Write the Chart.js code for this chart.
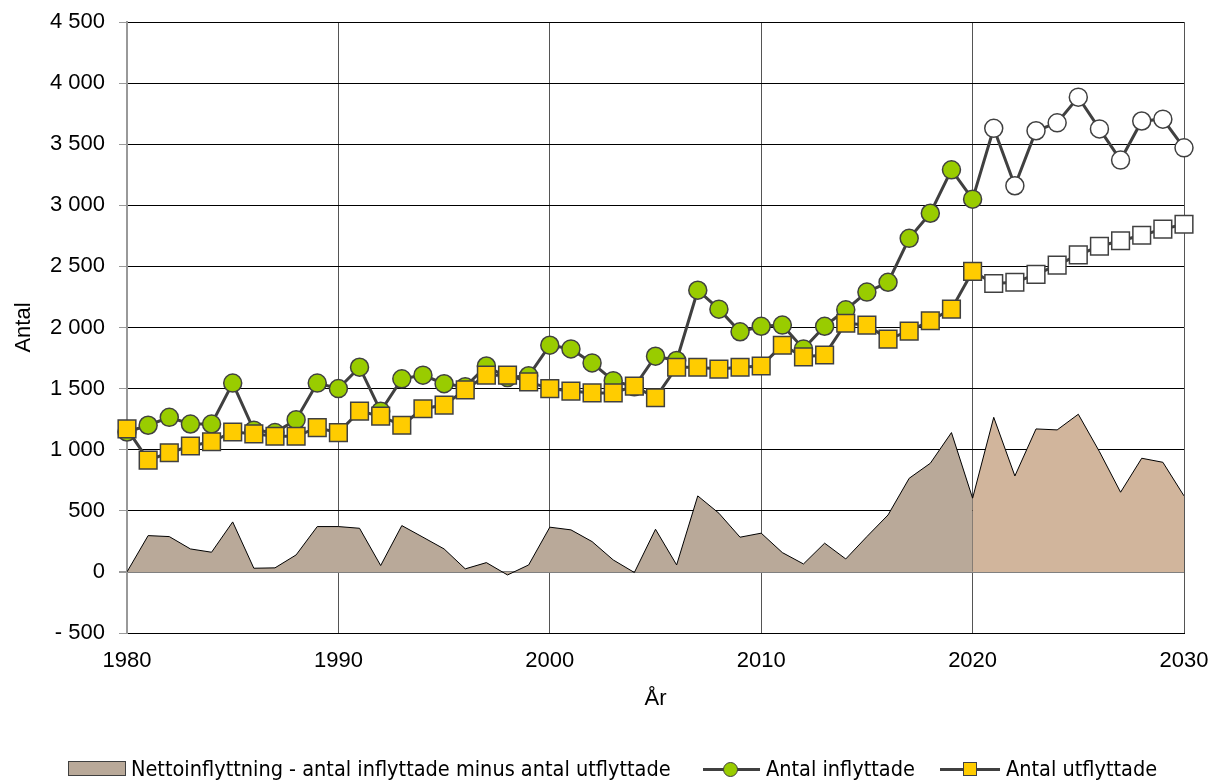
<!DOCTYPE html>
<html lang="sv">
<head>
<meta charset="utf-8">
<script src="https://cdn.jsdelivr.net/npm/chart.js@4/dist/chart.umd.min.js"></script>
<style>
  html, body { margin: 0; padding: 0; background: #fff; }
  #wrap { position: relative; width: 1214px; height: 781px; }
  .lg { position: absolute; font-family: "Liberation Sans Narrow", "DejaVu Sans Condensed", sans-serif; font-size: 21.5px; color: #000; line-height: 26px; top: 756px; white-space: nowrap; }
  .sw { position: absolute; box-sizing: border-box; }
</style>
</head>
<body>
<div id="wrap">
  <canvas id="chart" width="1214" height="781"></canvas>
  <div class="sw" style="left:68px;top:761px;width:58px;height:15px;background:#b9a999;border:1px solid #404040"></div>
  <div class="lg" style="left:131px">Nettoinflyttning - antal inflyttade minus antal utflyttade</div>
  <div class="sw" style="left:703px;top:768px;width:57px;height:3px;background:#404040"></div>
  <div class="sw" style="left:723px;top:762px;width:15px;height:15px;border-radius:50%;background:#99cc00;border:1.5px solid #404040"></div>
  <div class="lg" style="left:766px">Antal inflyttade</div>
  <div class="sw" style="left:940px;top:768px;width:60px;height:3px;background:#404040"></div>
  <div class="sw" style="left:963px;top:762px;width:14px;height:14px;background:#ffcc00;border:1.5px solid #404040"></div>
  <div class="lg" style="left:1006px">Antal utflyttade</div>
</div>
<script>
// data
const histYears = [1980, 1981, 1982, 1983, 1984, 1985, 1986, 1987, 1988, 1989,
                   1990, 1991, 1992, 1993, 1994, 1995, 1996, 1997, 1998, 1999,
                   2000, 2001, 2002, 2003, 2004, 2005, 2006, 2007, 2008, 2009,
                   2010, 2011, 2012, 2013, 2014, 2015, 2016, 2017, 2018, 2019, 2020];
const progYears = [2020, 2021, 2022, 2023, 2024, 2025, 2026, 2027, 2028, 2029, 2030];

const inflyttade = [1145, 1200, 1265, 1210, 1210, 1545, 1160, 1140, 1245, 1545,
                    1500, 1675, 1315, 1580, 1610, 1540, 1515, 1685, 1590, 1605,
                    1855, 1825, 1710, 1565, 1515, 1765, 1730, 2305, 2150, 1965,
                    2010, 2020, 1825, 2010, 2145, 2290, 2370, 2730, 2935, 3290, 3050];
const utflyttade = [1170, 915, 975, 1030, 1065, 1145, 1130, 1110, 1110, 1180,
                    1140, 1315, 1275, 1200, 1335, 1365, 1490, 1610, 1610, 1555,
                    1500, 1480, 1465, 1465, 1520, 1425, 1675, 1675, 1660, 1675,
                    1685, 1855, 1760, 1775, 2035, 2020, 1905, 1970, 2055, 2150, 2460];
const netto = [0, 297, 289, 188, 161, 409, 30, 33, 139, 371,
               371, 357, 52, 379, 284, 188, 25, 76, -25, 57,
               366, 344, 248, 98, -5, 349, 57, 622, 480, 284,
               317, 158, 65, 235, 106, 289, 466, 766, 889, 1140, 603];

// prognos 2020-2030 (first value = last observed year, for the joining segment)
const inflyttadeProg = [3050, 3630, 3160, 3610, 3675, 3885, 3625, 3370, 3690, 3705, 3470];
const utflyttadeProg = [2460, 2360, 2370, 2435, 2510, 2595, 2665, 2710, 2755, 2805, 2845];
const nettoProg = [603, 1265, 785, 1170, 1162, 1290, 984, 652, 930, 897, 622];

const yTicks = [-500, 0, 500, 1000, 1500, 2000, 2500, 3000, 3500, 4000, 4500];
const xTicks = [1980, 1990, 2000, 2010, 2020, 2030];

function pts(xs, ys) {
    return xs.map((x, i) => ({ x: x, y: ys[i] }));
}

function fmt(v) {
    const s = Math.abs(v).toString().replace(/\B(?=(\d{3})+(?!\d))/g, ' ');
    return v < 0 ? '- ' + s : s;
}

const lineCol = '#404040';
const font = { family: '"Liberation Sans", Arial, sans-serif', size: 22 };

new Chart(document.getElementById('chart'), {
    type: 'line',
    data: {
        datasets: [
            {
                label: 'Nettoinflyttning - antal inflyttade minus antal utflyttade',
                data: pts(histYears, netto),
                fill: 'origin',
                backgroundColor: '#b9a999',
                borderColor: '#000',
                borderWidth: 1,
                pointRadius: 0,
                order: 20
            },
            {
                label: 'Nettoinflyttning prognos',
                data: pts(progYears, nettoProg),
                fill: 'origin',
                backgroundColor: '#d1b59c',
                borderColor: '#000',
                borderWidth: 1,
                pointRadius: 0,
                order: 19
            },
            {
                label: 'Antal inflyttade prognos',
                data: pts(progYears, inflyttadeProg),
                clip: false,
                borderColor: lineCol,
                borderWidth: 3,
                pointStyle: 'circle',
                pointRadius: c => c.dataIndex === 0 ? 0 : 9,
                pointBackgroundColor: '#fff',
                pointBorderColor: lineCol,
                pointBorderWidth: 1.5,
                order: 6
            },
            {
                label: 'Antal utflyttade prognos',
                data: pts(progYears, utflyttadeProg),
                clip: false,
                borderColor: lineCol,
                borderWidth: 3,
                pointStyle: 'rect',
                pointRadius: c => c.dataIndex === 0 ? 0 : 12.5,
                pointBackgroundColor: '#fff',
                pointBorderColor: lineCol,
                pointBorderWidth: 1.5,
                order: 5
            },
            {
                label: 'Antal inflyttade',
                data: pts(histYears, inflyttade),
                clip: false,
                borderColor: lineCol,
                borderWidth: 3,
                pointStyle: 'circle',
                pointRadius: 9,
                pointBackgroundColor: '#99cc00',
                pointBorderColor: lineCol,
                pointBorderWidth: 1.5,
                order: 2
            },
            {
                label: 'Antal utflyttade',
                data: pts(histYears, utflyttade),
                clip: false,
                borderColor: lineCol,
                borderWidth: 3,
                pointStyle: 'rect',
                pointRadius: 12.5,
                pointBackgroundColor: '#ffcc00',
                pointBorderColor: lineCol,
                pointBorderWidth: 1.5,
                order: 1
            }
        ]
    },
    options: {
        responsive: false,
        animation: false,
        layout: { padding: { top: 22, right: 30, bottom: 61, left: 0 } },
        plugins: {
            legend: { display: false },
            tooltip: { enabled: false }
        },
        scales: {
            x: {
                type: 'linear',
                min: 1980,
                max: 2030,
                afterBuildTicks: s => { s.ticks = xTicks.map(v => ({ value: v })); },
                afterFit: s => { s.height = 87; s.paddingLeft = 0; s.paddingRight = 0; },
                ticks: { color: '#000', font: font, padding: 15, maxRotation: 0, callback: v => String(v) },
                grid: { color: '#555', lineWidth: 1, tickLength: 0 },
                border: { color: '#000', width: 1 },
                title: { display: true, text: 'År', color: '#000', font: font, padding: { top: 0, bottom: 8 } }
            },
            y: {
                min: -500,
                max: 4500,
                afterBuildTicks: s => { s.ticks = yTicks.map(v => ({ value: v })); },
                afterFit: s => { s.width = 127; s.paddingTop = 0; s.paddingBottom = 0; },
                ticks: { color: '#000', font: font, padding: 14, callback: v => fmt(v) },
                grid: {
                    color: c => c.tick && c.tick.value === 0 ? '#808080' : '#000',
                    lineWidth: c => c.tick && c.tick.value === 0 ? 2 : 1,
                    tickLength: 8,
                    tickColor: '#999'
                },
                border: { color: '#999', width: 2 },
                title: { display: true, text: 'Antal', color: '#000', font: font, padding: { top: 11, bottom: 0 } }
            }
        }
    }
});
</script>
</body>
</html>
